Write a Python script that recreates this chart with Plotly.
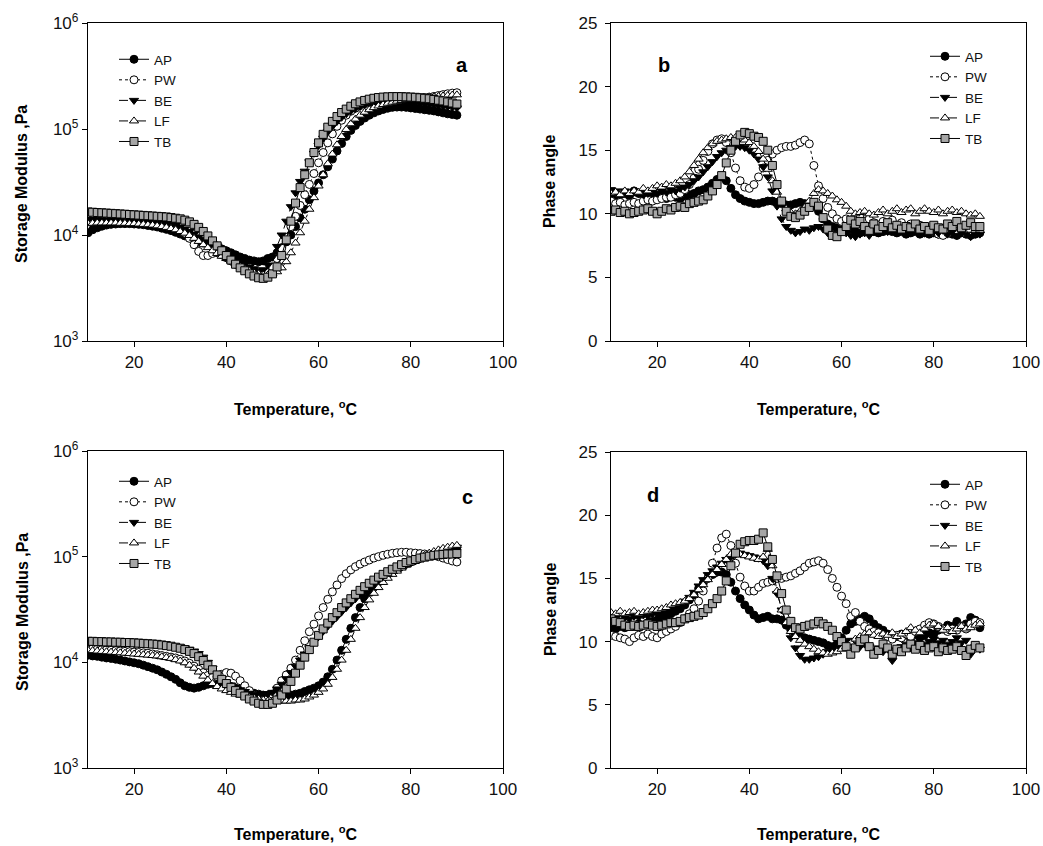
import plotly.graph_objects as go

temperature = list(range(10, 91))
series_names = ["AP", "PW", "BE", "LF", "TB"]

# ---------- panel a : storage modulus (Pa) ----------
a_AP = [10500, 11200, 11700, 12100, 12400, 12600, 12700, 12800, 12800, 12800,
        12700, 12600, 12500, 12300, 12100, 11900, 11600, 11300, 11000, 10600,
        10200, 9800, 9400, 9000, 8700, 8400, 8200, 8000, 7700, 7400,
        7100, 6800, 6500, 6200, 6000, 5800, 5700, 5600, 5700, 6000,
        6200, 6800, 7600, 8600, 10000, 12000, 14500, 17500, 21500, 26000,
        31000, 37000, 44000, 52000, 62000, 73000, 85000, 97000, 108000, 118000,
        127000, 135000, 142000, 148000, 153000, 157000, 160000, 161000, 161000, 160000,
        158000, 156000, 154000, 152000, 150000, 148000, 145000, 142000, 139000, 137000,
        135000]
a_PW = [14200, 14000, 13900, 13800, 13700, 13700, 13600, 13600, 13500, 13500,
        13400, 13300, 13200, 13100, 13000, 12900, 12700, 12500, 12200, 11800,
        11200, 10400, 9300, 8100, 7000, 6400, 6400, 6700, 6800, 6500,
        6100, 5700, 5300, 5000, 4700, 4500, 4300, 4200, 4200, 4400,
        5000, 6000, 7500, 9500, 12000, 15000, 19000, 24000, 30000, 38000,
        48000, 60000, 74000, 90000, 106000, 121000, 135000, 147000, 157000, 166000,
        173000, 179000, 184000, 188000, 191000, 193000, 194000, 195000, 196000, 196000,
        196000, 196000, 197000, 198000, 200000, 203000, 207000, 211000, 215000, 218000,
        220000]
a_BE = [14000, 14000, 13900, 13900, 13800, 13800, 13700, 13700, 13600, 13600,
        13500, 13500, 13400, 13300, 13200, 13100, 13000, 12800, 12600, 12300,
        11900, 11400, 10800, 10200, 9600, 9100, 8700, 8300, 7900, 7400,
        6900, 6400, 6000, 5600, 5300, 5000, 4800, 4600, 4700, 5200,
        6200, 7800, 10000, 13500, 18500, 25000, 32000, 40000, 49000, 59000,
        70000, 82000, 94000, 106000, 118000, 129000, 139000, 148000, 156000, 163000,
        169000, 174000, 178000, 181000, 183000, 184000, 184000, 183000, 182000, 180000,
        178000, 176000, 174000, 172000, 170000, 168000, 166000, 164000, 162000, 160000,
        158000]
a_LF = [12800, 12900, 13000, 13000, 13000, 13000, 13000, 12900, 12900, 12800,
        12800, 12700, 12600, 12500, 12400, 12200, 12000, 11800, 11500, 11200,
        10800, 10400, 9900, 9300, 8700, 8100, 7600, 7100, 6700, 6300,
        6000, 5700, 5400, 5100, 4800, 4600, 4400, 4300, 4200, 4200,
        4300, 4500, 4900, 5600, 6800, 8400, 10500, 13500, 17500, 22500,
        29000, 37000, 47000, 58000, 71000, 85000, 99000, 112000, 124000, 135000,
        144000, 152000, 159000, 165000, 170000, 175000, 179000, 183000, 186000, 189000,
        191000, 193000, 195000, 197000, 199000, 201000, 203000, 205000, 207000, 209000,
        210000]
a_TB = [16500, 16400, 16300, 16200, 16100, 16000, 15900, 15800, 15700, 15600,
        15500, 15400, 15300, 15200, 15100, 15000, 14900, 14800, 14600, 14400,
        14200, 13800, 13300, 12600, 11800, 10800, 9800, 8800, 7900, 7100,
        6400, 5800, 5300, 4900, 4600, 4300, 4100, 3950, 3900, 4000,
        4300, 5000, 6400, 9000, 13500, 20000, 28000, 37000, 48000, 60000,
        74000, 89000, 104000, 118000, 131000, 143000, 154000, 164000, 173000, 180000,
        186000, 191000, 195000, 198000, 200000, 201000, 202000, 202000, 202000, 201000,
        200000, 199000, 197000, 195000, 193000, 190000, 187000, 184000, 180000, 176000,
        172000]

# ---------- panel b : phase angle ----------
b_AP = [11.2, 11.3, 11.5, 11.6, 11.4, 11.8, 11.6, 11.5, 11.4, 11.5,
        11.3, 11.4, 11.2, 11.4, 11.3, 11.2, 11.4, 11.5, 11.6, 11.8,
        11.9, 12.1, 12.4, 12.7, 12.9, 12.6, 12.0, 11.5, 11.2, 11.0,
        10.9, 10.8, 10.8, 10.9, 11.0, 11.0, 10.9, 10.8, 10.7, 10.7,
        10.8, 10.9, 10.8, 10.7, 10.6, 10.2, 9.6, 9.2, 9.0, 8.9,
        8.8, 8.7, 8.8, 8.6, 8.5, 8.6, 8.7, 8.6, 8.5, 8.6,
        8.7, 8.6, 8.5, 8.6, 8.4, 8.5, 8.6, 8.4, 8.5, 8.4,
        8.5, 8.4, 8.6, 8.5, 8.4, 8.3, 8.5, 8.4, 8.3, 8.4,
        8.5]
b_PW = [11.0, 10.8, 10.9, 10.7, 10.8, 10.9, 10.8, 11.0, 11.1, 11.0,
        11.1, 11.2, 11.3, 11.3, 11.5, 11.6, 11.9, 12.3, 12.8, 13.5,
        14.2, 14.9, 15.5, 15.8, 15.9, 15.6, 14.8, 13.6, 12.6, 12.1,
        12.0, 12.3, 12.9, 13.6, 14.2, 14.7, 15.0, 15.2, 15.3, 15.3,
        15.4, 15.6, 15.8, 15.5, 13.8, 12.2, 11.2, 10.5, 10.0, 9.6,
        9.4, 9.6, 9.3, 9.5, 9.7, 9.4, 9.6, 9.3, 9.1, 9.4,
        9.2, 9.5, 9.1, 9.3, 9.0, 9.2, 8.9, 9.1, 8.8, 8.7,
        8.6, 8.4, 8.3, 8.5, 8.7, 8.6, 8.8, 8.5, 8.7, 8.6,
        8.6]
b_BE = [11.9, 11.8, 11.6, 11.8, 11.5, 11.7, 11.6, 11.5, 11.6, 11.7,
        11.6, 11.8, 11.7, 11.9, 11.8, 12.0, 12.1, 12.3, 12.6, 12.9,
        13.3, 13.7, 14.1, 14.5, 14.8, 15.0, 15.2, 15.3, 15.3, 15.2,
        15.0, 14.7, 14.3, 13.7, 12.9, 11.8, 10.6, 9.6, 9.0, 8.7,
        8.5, 8.6, 8.8, 8.7, 8.9, 9.0, 8.8, 8.5, 8.3, 8.4,
        8.6, 8.5, 8.3, 8.2, 8.4, 8.5, 8.3, 8.6, 8.5, 8.7,
        8.6, 8.8, 8.6, 8.7, 8.9, 8.6, 8.8, 8.7, 8.5, 8.7,
        8.6, 8.5, 8.7, 8.4, 8.6, 8.3, 8.5, 8.4, 8.2, 8.4,
        8.4]
b_LF = [11.6, 11.7, 11.5, 11.8, 11.6, 11.8, 11.7, 12.0, 11.8, 12.0,
        12.2, 12.1, 12.3, 12.2, 12.4, 12.6, 12.9, 13.3, 13.8, 14.3,
        14.8, 15.2, 15.5, 15.7, 15.8, 15.9, 16.0, 16.0, 15.9, 15.8,
        15.6, 15.3, 14.9, 14.3, 13.5, 12.6, 11.7, 10.9, 10.4, 10.1,
        10.0, 10.2, 10.5, 11.0, 11.6, 11.9, 11.8, 11.6, 11.4, 11.1,
        10.9, 10.6, 10.2, 10.0, 10.1, 10.2, 10.0, 9.9, 10.1, 10.3,
        10.0, 10.2, 10.4, 10.1, 10.3, 10.4, 10.0, 10.2, 10.4, 10.2,
        10.1, 10.3, 10.0, 10.2, 10.3, 10.1, 10.2, 10.0, 9.9, 10.0,
        9.8]
b_TB = [10.2, 10.3, 10.1, 10.2, 10.0, 10.1, 10.2, 10.3, 10.4, 10.2,
        10.0, 10.2, 10.4, 10.3, 10.5, 10.6, 10.5, 10.8, 10.9, 11.0,
        11.1, 11.4, 11.8, 12.3, 13.0, 14.0, 15.0, 15.7, 16.2, 16.4,
        16.3, 16.1, 16.0, 15.7, 15.0, 13.8, 12.3, 11.0, 10.2, 9.8,
        9.7, 9.9, 10.2, 10.5, 10.9, 10.6, 9.7, 8.8, 8.3, 8.2,
        8.6, 9.0, 9.5, 9.2, 9.4, 9.0, 8.7, 9.2, 8.8, 9.0,
        9.3, 8.9, 9.1, 8.8, 9.0, 8.9, 9.2, 8.8, 9.0, 8.7,
        9.1, 8.9, 8.8, 9.2, 9.0, 9.4, 8.9, 9.1, 9.3, 9.0,
        9.0]

# ---------- panel c : storage modulus (Pa) ----------
c_AP = [11700, 11500, 11400, 11200, 11000, 10900, 10700, 10500, 10300, 10100,
        9900, 9700, 9400, 9100, 8800, 8500, 8100, 7700, 7300, 6900,
        6400, 6000, 5800, 5700, 5800, 6000, 6200, 6300, 6300, 6200,
        6100, 5900, 5700, 5500, 5300, 5200, 5100, 5000, 4900, 4900,
        4900, 4900, 4900, 4900, 4900, 5000, 5100, 5300, 5500, 5700,
        6000, 6500, 7300, 8600, 10500, 13000, 16500, 21000, 26500, 33000,
        40000, 46000, 52000, 57500, 63000, 68000, 73000, 77500, 82000, 86000,
        89000, 93000, 96500, 100000, 103000, 106000, 109000, 111000, 113000, 115000,
        117000]
c_PW = [13500, 13400, 13300, 13200, 13100, 13000, 12900, 12800, 12700, 12600,
        12500, 12400, 12300, 12200, 12000, 11800, 11600, 11400, 11200, 11000,
        10700, 10300, 9800, 9200, 8600, 8000, 7500, 7200, 7300, 7700,
        8000, 7900, 7400, 6700, 6000, 5400, 4900, 4600, 4500, 4600,
        5000, 5700, 6700, 7600, 8800, 10500, 13000, 16000, 19500, 23000,
        27500, 33000, 39500, 46500, 54000, 62000, 69000, 75000, 80500, 85000,
        89000, 93000, 97000, 100000, 103000, 105500, 107500, 109000, 110000, 110000,
        109000, 108000, 107000, 106000, 104000, 102000, 100000, 97000, 94000, 91000,
        89000]
c_BE = [15500, 15500, 15400, 15400, 15300, 15300, 15200, 15200, 15100, 15100,
        15000, 15000, 14900, 14900, 14800, 14700, 14600, 14500, 14400, 14200,
        14000, 13700, 13300, 12800, 12100, 11200, 10000, 8800, 7700, 7000,
        6500, 6100, 5800, 5500, 5300, 5100, 5000, 4900, 4900, 5000,
        5200, 5600, 6200, 7000, 8000, 9200, 10500, 12000, 13700, 15500,
        17500, 19700, 22000, 24500, 27000, 30000, 33000, 36500, 40000, 43500,
        47000, 51000, 55000, 59000, 63000, 67000, 71000, 75000, 79000, 83000,
        87000, 91000, 95000, 99000, 103000, 107000, 111000, 115000, 118000, 121000,
        123000]
c_LF = [13000, 12900, 12800, 12700, 12600, 12500, 12400, 12300, 12200, 12100,
        12000, 11900, 11800, 11700, 11600, 11500, 11300, 11100, 10900, 10600,
        10300, 9900, 9400, 8800, 8100, 7400, 6800, 6300, 5900, 5600,
        5400, 5200, 5000, 4900, 4800, 4700, 4600, 4500, 4400, 4300,
        4300, 4300, 4300, 4300, 4300, 4400, 4400, 4500, 4700, 4900,
        5200, 5600, 6200, 7200, 8600, 10500, 13000, 16500, 21000, 26500,
        33000, 39000, 45000, 51000, 57000, 62500, 68000, 73000, 78000, 83000,
        88000, 93000, 98000, 103000, 108000, 112000, 116000, 120000, 123000, 126000,
        128000]
c_TB = [15800, 15800, 15700, 15700, 15600, 15600, 15500, 15500, 15400, 15400,
        15300, 15200, 15100, 15000, 14900, 14800, 14600, 14400, 14200, 13900,
        13600, 13200, 12700, 12100, 11300, 10400, 9400, 8500, 7600, 6900,
        6300, 5800, 5400, 5100, 4800, 4500, 4300, 4100, 4000, 4000,
        4100, 4400, 4900, 5600, 6600, 7900, 9400, 11200, 13200, 15500,
        18000, 20700, 23500, 26500, 29500, 33000, 36500, 40000, 44000, 48000,
        52000, 56000, 60000, 64000, 68000, 72000, 76000, 80000, 84000, 88000,
        91000, 94000, 97000, 99000, 101000, 103000, 104000, 105000, 106000, 106000,
        107000]

# ---------- panel d : phase angle ----------
d_AP = [11.1, 11.0, 11.2, 11.1, 11.3, 11.2, 11.4, 11.3, 11.5, 11.6,
        11.7, 11.9, 12.0, 12.2, 12.4, 12.6, 12.9, 13.3, 13.7, 14.2,
        14.6, 15.0, 15.3, 15.5, 15.5, 15.3, 14.7, 14.0, 13.4, 12.9,
        12.5, 12.1, 11.8, 11.9, 12.0, 11.8, 11.8, 11.7, 11.3, 10.9,
        10.6, 10.4, 10.3, 10.2, 10.1, 10.0, 9.9, 9.7, 9.6, 9.8,
        10.3, 10.9, 11.4, 11.6, 11.8, 12.0, 11.8, 11.4, 11.1, 10.9,
        10.6, 10.5, 10.4, 10.6, 10.5, 10.3, 10.6, 10.4, 10.5, 10.7,
        10.6, 10.9, 11.0, 11.3, 11.2, 11.6, 11.2, 11.4, 11.9, 11.7,
        11.1]
d_PW = [10.5, 10.4, 10.3, 10.2, 10.0, 10.3, 10.5, 10.4, 10.6, 10.4,
        10.3, 10.6, 10.8, 11.0, 11.2, 11.5, 11.8, 12.2, 12.6, 13.2,
        14.0, 15.0, 16.2, 17.4, 18.2, 18.5, 17.6, 16.2, 15.1, 14.4,
        14.0, 14.0, 14.3, 14.6, 14.7, 14.8, 15.0, 15.0, 15.1, 15.2,
        15.4, 15.6, 15.9, 16.2, 16.3, 16.4, 16.2, 15.7, 15.0, 14.3,
        13.6, 13.0, 12.0, 12.3, 11.6, 11.2, 11.0, 10.8, 10.7, 10.5,
        10.4, 10.2, 10.5, 10.3, 10.6, 10.4, 10.8, 11.0, 11.3, 11.5,
        11.4, 11.2, 11.0, 10.8, 11.0, 10.9, 11.2, 11.0, 11.4, 11.6,
        11.5]
d_BE = [11.8, 11.9, 11.7, 11.9, 11.8, 12.0, 11.9, 12.1, 12.0, 12.2,
        12.2, 12.3, 12.5, 12.6, 12.8, 13.0, 13.2, 13.5, 13.9, 14.4,
        14.9, 15.3, 15.6, 15.9, 16.2, 16.5, 16.7, 16.9, 17.0, 16.9,
        16.8, 16.7, 16.6, 16.4, 16.0, 15.0, 13.8, 12.5, 11.3, 10.3,
        9.5, 8.9, 8.6, 8.6, 8.7, 8.8, 9.0, 9.2, 9.4, 9.6,
        9.8, 10.0, 10.1, 9.8, 9.6, 9.8, 9.6, 9.3, 9.5, 9.2,
        9.4, 8.5, 9.3, 9.6, 9.8, 9.5, 9.9, 10.1, 9.8, 10.0,
        10.2, 9.9, 10.1, 9.8, 10.0, 10.3, 9.9, 10.1, 9.0, 9.6,
        9.4]
d_LF = [12.3, 12.2, 12.4, 12.2, 12.3, 12.4, 12.2, 12.3, 12.4, 12.5,
        12.5, 12.6, 12.7, 12.9, 13.0, 13.1, 13.2, 13.4, 13.7, 14.1,
        14.5, 14.9, 15.3, 15.7, 16.1, 16.5, 16.9, 17.0, 16.9, 16.8,
        16.7, 16.6, 16.5, 16.7, 17.3, 16.0, 14.0, 12.5, 11.5, 10.8,
        10.4, 10.1, 9.8, 9.6, 9.4, 9.2, 9.1, 9.0, 9.1, 9.2,
        9.4, 9.6, 9.9, 10.2, 10.4, 10.6, 10.7, 10.5, 10.4, 10.6,
        10.5, 10.7, 10.4, 10.6, 10.8, 11.1, 10.9, 10.7, 11.0, 11.3,
        11.4, 11.2, 10.9, 11.1, 10.8, 11.0, 11.2, 11.0, 11.1, 11.3,
        11.4]
d_TB = [11.8, 11.6, 11.5, 11.3, 11.2, 11.3, 11.2, 11.3, 11.4, 11.3,
        11.2, 11.3, 11.4, 11.5, 11.5, 11.6, 11.8, 11.9, 12.0, 12.1,
        12.3, 12.6, 13.0, 13.4, 14.0, 14.8, 16.0, 17.0, 17.7, 17.9,
        18.0, 18.0, 18.1, 18.6, 17.5, 16.5, 15.2, 13.8, 12.5, 11.6,
        11.1, 11.0, 11.2, 11.3, 11.4, 11.6, 11.4, 11.2, 10.9, 10.4,
        10.0, 9.6, 9.0, 9.5, 10.0, 10.2, 9.6, 9.0, 9.3, 9.8,
        9.5, 9.0, 9.4, 9.2, 9.5, 9.8, 9.4, 9.7, 9.3, 9.5,
        9.6, 9.2, 9.5, 9.3, 9.4, 9.6, 9.3, 8.9, 9.4, 9.7,
        9.5]

panels = [
    ("a", [a_AP, a_PW, a_BE, a_LF, a_TB]),
    ("b", [b_AP, b_PW, b_BE, b_LF, b_TB]),
    ("c", [c_AP, c_PW, c_BE, c_LF, c_TB]),
    ("d", [d_AP, d_PW, d_BE, d_LF, d_TB]),
]

styles = {
    "AP": dict(symbol="circle", fill="black", dash="solid"),
    "PW": dict(symbol="circle", fill="white", dash="dot"),
    "BE": dict(symbol="triangle-down", fill="black", dash="dash"),
    "LF": dict(symbol="triangle-up", fill="white", dash="dashdot"),
    "TB": dict(symbol="square", fill="#a6a6a6", dash="solid"),
}

# the page body margin is removed by a post script, so the figure fills the window
W, H = 1043, 846
FONT = "Arial, Liberation Sans, Helvetica, sans-serif"


def px(x):
    return x / W


def py(y):
    return 1 - y / H


fig = go.Figure()
legend_ids = ["legend", "legend2", "legend3", "legend4"]
for i, (label, data) in enumerate(panels):
    xa = "x" if i == 0 else f"x{i+1}"
    ya = "y" if i == 0 else f"y{i+1}"
    for name, vals in zip(series_names, data):
        st = styles[name]
        fig.add_trace(go.Scatter(
            x=temperature, y=vals, name=name, mode="lines+markers",
            xaxis=xa, yaxis=ya, legend=legend_ids[i],
            line=dict(color="black", width=1, dash=st["dash"]),
            marker=dict(symbol=st["symbol"], size=8, color=st["fill"],
                        line=dict(color="black", width=1)),
        ))

# plot-area pixel boxes (left, right, top, bottom)
boxes = [(88, 503, 23, 341), (611, 1026, 23, 341),
         (88, 503, 451, 768), (611, 1026, 452, 768)]

axis_common = dict(showline=True, linecolor="black", linewidth=1.3, mirror=True,
                   ticks="outside", ticklen=5, tickcolor="black", showgrid=False,
                   zeroline=False, automargin=False,
                   tickfont=dict(family=FONT, size=17, color="#111"))
layout = dict(width=W, height=H, margin=dict(l=0, r=0, t=0, b=0, autoexpand=False),
              paper_bgcolor="white", plot_bgcolor="white",
              font=dict(family=FONT, color="black"))

for i, (l, r, t, b) in enumerate(boxes):
    xk = "xaxis" if i == 0 else f"xaxis{i+1}"
    yk = "yaxis" if i == 0 else f"yaxis{i+1}"
    xa = "x" if i == 0 else f"x{i+1}"
    ya = "y" if i == 0 else f"y{i+1}"
    layout[xk] = dict(axis_common, domain=[px(l), px(r)], anchor=ya, range=[10, 100],
                      tickvals=[20, 40, 60, 80, 100], ticklabelstandoff=0)
    if i in (0, 2):
        layout[yk] = dict(axis_common, domain=[py(b), py(t)], anchor=xa, type="log",
                          range=[3, 6], tickvals=[1e3, 1e4, 1e5, 1e6],
                          ticktext=["10<sup>3</sup>", "10<sup>4</sup>",
                                    "10<sup>5</sup>", "10<sup>6</sup>"])
    else:
        layout[yk] = dict(axis_common, domain=[py(b), py(t)], anchor=xa,
                          range=[0, 25], tickvals=[0, 5, 10, 15, 20, 25],
                          ticklabelstandoff=4)

legend_pos = [(114, 44), (925, 41), (114, 466), (925, 469)]
for i, (lx, ly) in enumerate(legend_pos):
    layout[legend_ids[i]] = dict(x=px(lx), y=py(ly), xanchor="left", yanchor="top",
                                 bgcolor="rgba(0,0,0,0)", borderwidth=0,
                                 font=dict(family=FONT, size=13.5, color="#111"),
                                 tracegroupgap=0)

fig.update_layout(**layout)

ann = []
title_font = dict(family=FONT, size=16, color="black")
for (xc, yc) in [(295, 408), (818, 408), (295, 833), (818, 833)]:
    ann.append(dict(text="<b>Temperature, <sup>o</sup>C</b>", x=px(xc), y=py(yc),
                    xref="paper", yref="paper", showarrow=False, font=title_font,
                    xanchor="center", yanchor="middle"))
for (xc, yc, txt) in [(22, 184, "Storage Modulus ,Pa"), (550, 182, "Phase angle"),
                      (22, 612, "Storage Modulus ,Pa"), (550, 610, "Phase angle")]:
    ann.append(dict(text=f"<b>{txt}</b>", x=px(xc), y=py(yc), xref="paper",
                    yref="paper", showarrow=False, font=title_font, textangle=-90,
                    xanchor="center", yanchor="middle"))
for (xc, yc, txt) in [(462, 65, "a"), (664, 65, "b"), (467, 497, "c"), (653, 495, "d")]:
    ann.append(dict(text=f"<b>{txt}</b>", x=px(xc), y=py(yc), xref="paper",
                    yref="paper", showarrow=False,
                    font=dict(family=FONT, size=20, color="black"),
                    xanchor="center", yanchor="middle"))
fig.update_layout(annotations=ann)

fig.write_html(
    "out.html",
    config={"displayModeBar": False},
    post_script="document.body.style.margin='0px';"
                "document.documentElement.style.overflow='hidden';",
)
